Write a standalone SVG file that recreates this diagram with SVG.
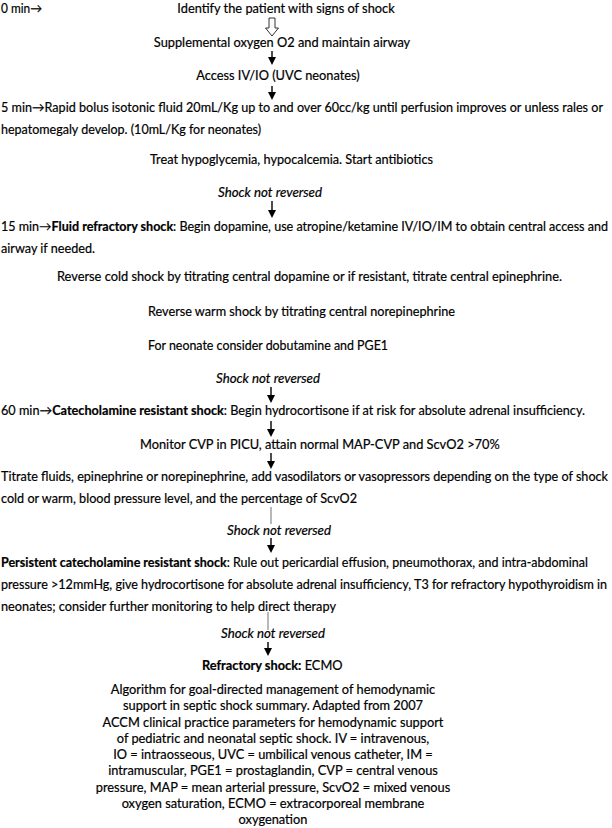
<svg xmlns="http://www.w3.org/2000/svg" width="612" height="828" viewBox="0 0 612 828">
<style>
text{font-family:Lato,"Open Sans","Liberation Sans",sans-serif;font-size:12.8px;fill:#000;stroke:#000;stroke-width:0.2}
.b{font-weight:bold}
.i{font-style:italic}
.c{text-anchor:middle}
.w{font-size:12.6px}
.sh{stroke:#000;stroke-width:1.4;fill:none}
.thin{stroke:#333;stroke-width:0.7;fill:none}
.hd{fill:#000;stroke:none}
</style>
<rect width="612" height="828" fill="#fff"/>
<g id="connectors">
<polygon points="269,18 275,18 275,28 278.5,28 272,36 265.5,28 269,28" fill="#fff" stroke="#000" stroke-width="0.8"/>
<line class="sh" x1="272" y1="51" x2="272" y2="58"/><polygon class="hd" points="268,57 276,57 272,65"/>
<line class="sh" x1="272" y1="86" x2="272" y2="93"/><polygon class="hd" points="268,92 276,92 272,100"/>
<line class="sh" x1="272" y1="201" x2="272" y2="211"/><polygon class="hd" points="268,210 276,210 272,218"/>
<line class="sh" x1="271" y1="387" x2="271" y2="396"/><polygon class="hd" points="267,395 275,395 271,403"/>
<line class="sh" x1="271" y1="421" x2="271" y2="430"/><polygon class="hd" points="267,429 275,429 271,437"/>
<line class="sh" x1="271" y1="453" x2="271" y2="462"/><polygon class="hd" points="267,461 275,461 271,469"/>
<line class="thin" x1="271" y1="507" x2="271" y2="524"/>
<line class="sh" x1="271" y1="538" x2="271" y2="546"/><polygon class="hd" points="267,545 275,545 271,553"/>
<line class="thin" x1="268" y1="612" x2="268" y2="630"/>
<line class="sh" x1="268" y1="642" x2="268" y2="649"/><polygon class="hd" points="264,648 272,648 268,656"/>
</g>
<g id="t0"><text x="1" y="13" textLength="41" lengthAdjust="spacingAndGlyphs">0 min→</text></g>
<g id="identify"><text x="286" y="13" class="c">Identify the patient with signs of shock</text></g>
<g id="oxygen"><text x="282" y="47" class="c">Supplemental oxygen O2 and maintain airway</text></g>
<g id="access"><text x="278" y="80" class="c">Access IV/IO (UVC neonates)</text></g>
<g id="bolus">
<text x="1" y="112" textLength="602" lengthAdjust="spacingAndGlyphs">5 min→Rapid bolus isotonic fluid 20mL/Kg up to and over 60cc/kg until perfusion improves or unless rales or</text>
<text x="1" y="134" textLength="260" lengthAdjust="spacingAndGlyphs">hepatomegaly develop. (10mL/Kg for neonates)</text>
</g>
<g id="treat"><text x="150" y="164" textLength="283" lengthAdjust="spacingAndGlyphs">Treat hypoglycemia, hypocalcemia. Start antibiotics</text></g>
<g id="snr1"><text x="218" y="197" class="i" textLength="104" lengthAdjust="spacingAndGlyphs">Shock not reversed</text></g>
<g id="fluid-refractory">
<text x="1" y="231" class="w" textLength="607" lengthAdjust="spacingAndGlyphs">15 min→<tspan class="b">Fluid refractory shock</tspan>: Begin dopamine, use atropine/ketamine IV/IO/IM to obtain central access and</text>
<text x="1" y="253" textLength="94" lengthAdjust="spacingAndGlyphs">airway if needed.</text>
</g>
<g id="cold"><text x="57" y="281" textLength="505" lengthAdjust="spacingAndGlyphs">Reverse cold shock by titrating central dopamine or if resistant, titrate central epinephrine.</text></g>
<g id="warm"><text x="148" y="316" textLength="307" lengthAdjust="spacingAndGlyphs">Reverse warm shock by titrating central norepinephrine</text></g>
<g id="neonate"><text x="148" y="350" textLength="240" lengthAdjust="spacingAndGlyphs">For neonate consider dobutamine and PGE1</text></g>
<g id="snr2"><text x="216" y="383" class="i" textLength="104" lengthAdjust="spacingAndGlyphs">Shock not reversed</text></g>
<g id="catecholamine"><text x="1" y="415" textLength="584" lengthAdjust="spacingAndGlyphs">60 min→<tspan class="b">Catecholamine resistant shock</tspan>: Begin hydrocortisone if at risk for absolute adrenal insufficiency.</text></g>
<g id="monitor"><text x="140" y="449">Monitor CVP in PICU, attain normal MAP-CVP and ScvO2 &gt;70%</text></g>
<g id="titrate">
<text x="1" y="481" class="w" textLength="607" lengthAdjust="spacingAndGlyphs">Titrate fluids, epinephrine or norepinephrine, add vasodilators or vasopressors depending on the type of shock</text>
<text x="1" y="503" textLength="356" lengthAdjust="spacingAndGlyphs">cold or warm, blood pressure level, and the percentage of ScvO2</text>
</g>
<g id="snr3"><text x="227" y="535" class="i" textLength="104" lengthAdjust="spacingAndGlyphs">Shock not reversed</text></g>
<g id="persistent">
<text x="1" y="567" textLength="587" lengthAdjust="spacingAndGlyphs"><tspan class="b">Persistent catecholamine resistant shock</tspan>: Rule out pericardial effusion, pneumothorax, and intra-abdominal</text>
<text x="1" y="589" class="w" textLength="606" lengthAdjust="spacingAndGlyphs">pressure &gt;12mmHg, give hydrocortisone for absolute adrenal insufficiency, T3 for refractory hypothyroidism in</text>
<text x="1" y="611" textLength="335" lengthAdjust="spacingAndGlyphs">neonates; consider further monitoring to help direct therapy</text>
</g>
<g id="snr4"><text x="221" y="638" class="i" textLength="104" lengthAdjust="spacingAndGlyphs">Shock not reversed</text></g>
<g id="ecmo"><text x="202" y="670"><tspan class="b">Refractory shock:</tspan> ECMO</text></g>
<g id="caption">
<text x="273" y="694" class="c">Algorithm for goal-directed management of hemodynamic</text>
<text x="273" y="710.25" class="c">support in septic shock summary. Adapted from 2007</text>
<text x="273" y="726.5" class="c">ACCM clinical practice parameters for hemodynamic support</text>
<text x="273" y="742.75" class="c">of pediatric and neonatal septic shock. IV = intravenous,</text>
<text x="273" y="759" class="c">IO = intraosseous, UVC = umbilical venous catheter, IM =</text>
<text x="273" y="775.25" class="c">intramuscular, PGE1 = prostaglandin, CVP = central venous</text>
<text x="273" y="791.5" class="c">pressure, MAP = mean arterial pressure, ScvO2 = mixed venous</text>
<text x="273" y="807.75" class="c">oxygen saturation, ECMO = extracorporeal membrane</text>
<text x="273" y="824" class="c">oxygenation</text>
</g>
</svg>
